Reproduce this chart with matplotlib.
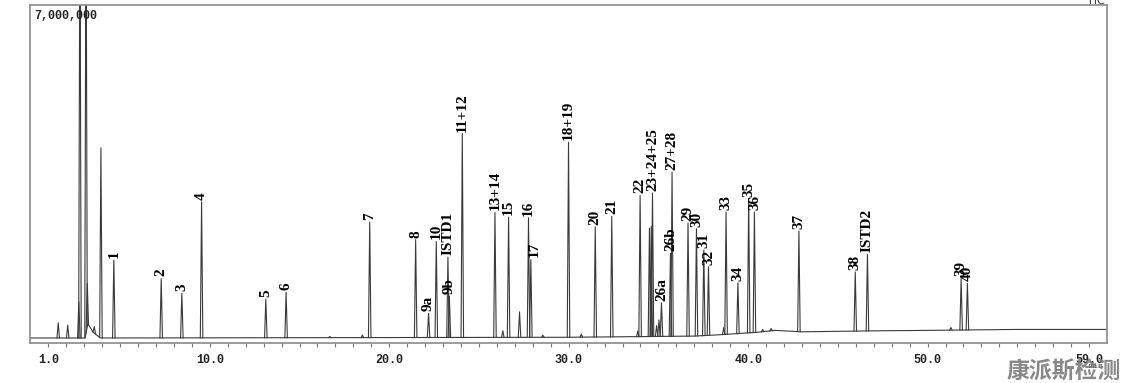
import numpy as np
import matplotlib
matplotlib.use("Agg")
import matplotlib.pyplot as plt

# ---------------- data (retention time in min, peak top in millions of counts) -------------
label_names = ["1", "2", "3", "4", "5", "6", "7", "8", "9a", "10", "ISTD1", "9b", "11+12",
               "13+14", "15", "16", "17", "18+19", "20", "21", "22", "23+24+25", "26a", "26b",
               "27+28", "29", "30", "31", "32", "33", "34", "35", "36", "37", "38", "ISTD2",
               "39", "40"]
label_times = [4.65, 7.29, 8.44, 9.54, 13.12, 14.25, 18.91, 21.47, 22.19, 22.62, 23.27, 23.35,
               24.07, 25.89, 26.65, 27.76, 27.89, 29.99, 31.48, 32.40, 33.98, 34.67, 35.17, 35.67,
               35.76, 36.65, 37.12, 37.53, 37.79, 38.77, 39.43, 40.03, 40.35, 42.83, 45.97, 46.65,
               51.87, 52.22]
label_tops = [1.64, 1.25, 0.94, 2.86, 0.82, 0.96, 2.44, 2.07, 0.52, 2.03, 1.70, 0.88,
              4.30, 2.64, 2.54, 2.53, 1.65, 4.12, 2.34, 2.56, 3.00, 3.05, 0.74, 1.78,
              3.49, 2.42, 2.30, 1.85, 1.50, 2.65, 1.16, 2.93, 2.65, 2.25, 1.39, 1.76,
              1.25, 1.15]

other_times = [1.55, 2.08, 2.70, 2.76, 3.10, 3.17, 3.56, 3.93, 16.68, 18.50, 26.33, 27.26,
               28.56, 30.70, 33.85, 34.50, 34.60, 34.90, 35.03, 38.64, 40.81, 41.28, 51.30]
other_tops = [0.32, 0.27, 0.76, 9.50, 9.50, 1.15, 0.24, 4.00, 0.03, 0.06, 0.15, 0.55,
              0.06, 0.08, 0.15, 2.31, 2.35, 0.26, 0.38, 0.22, 0.18, 0.20, 0.22]

baseline_times = [0.0, 3.05, 3.20, 3.50, 3.90, 30.0, 37.0, 38.5, 40.5, 41.5, 43.0, 47.0, 50.0, 55.0, 60.0]
baseline_levels = [0.0, 0.0, 0.30, 0.12, 0.0, 0.015, 0.04, 0.07, 0.12, 0.16, 0.13, 0.15, 0.16, 0.18, 0.18]

tick_values = [1.0, 10.0, 20.0, 30.0, 40.0, 50.0, 59.0]
tick_labels = ["1.0", "10.0", "20.0", "30.0", "40.0", "50.0", "59.0"]
y_top_label = "7,000,000"

# ---------------- figure -------------
fig = plt.figure(figsize=(11.25, 3.83), dpi=100)
ax = fig.add_axes([30.4 / 1125, 40.5 / 383, (1107 - 30.4) / 1125, (342.5 - 5.3) / 383])
ax.set_xlim(0.0, 60.0)
ax.set_ylim(-0.095, 7.0)

line_color = "#3a3a3a"
lw = 0.8
hw = 0.07  # half width of a peak at its base (min)

ax.plot(baseline_times, baseline_levels, color=line_color, lw=lw, solid_joinstyle="miter")

def draw_peak(t, top):
    base = np.interp([t - hw, t + hw], baseline_times, baseline_levels)
    ax.plot([t - hw, t, t + hw], [base[0], top, base[1]], color=line_color, lw=lw)

for t, top in zip(other_times, other_tops):
    draw_peak(t, top)
for t, top in zip(label_times, label_tops):
    draw_peak(t, top)

label_dx = {"17": 3, "36": 1}
for name, t, top in zip(label_names, label_times, label_tops):
    ax.annotate(name, xy=(t, top), xytext=(label_dx.get(name, 0) * 0.72, 1.5),
                textcoords="offset points", rotation=90, ha="center", va="bottom",
                fontsize=11, fontweight="bold", family="Liberation Serif", color="black")

# frame
for s in ax.spines.values():
    s.set_color("#8a8a8a")
    s.set_linewidth(1.2)

ax.set_yticks([])
ax.set_xticks(tick_values)
ax.set_xticklabels(tick_labels, family="Liberation Mono", fontsize=8.5, fontweight="bold", color="#222222")
ax.set_xticks(np.arange(1, 60, 1), minor=True)
ax.tick_params(axis="x", which="both", direction="out", length=3, width=0.8, color="#777777", pad=5)

ax.text(0.004, 0.985, y_top_label, transform=ax.transAxes, ha="left", va="top",
        family="Liberation Mono", fontsize=8.5, fontweight="bold", color="#222222")

fig.text(1096 / 1125, 1 - 1 / 383, "TIC", ha="center", va="center", fontsize=8, color="#333333")
fig.text(1096 / 1125, 1 - 367 / 383, "min", ha="center", va="center", fontsize=6,
         family="Liberation Mono", color="#333333")
fig.text(1064 / 1125, 1 - 372 / 383, "康派斯检测", ha="center", va="center", fontsize=16.5,
         fontweight="bold", family=["Noto Sans CJK SC", "DejaVu Sans"], color="#7b7b7b", alpha=0.9)

fig.savefig("out.png", dpi=100)
